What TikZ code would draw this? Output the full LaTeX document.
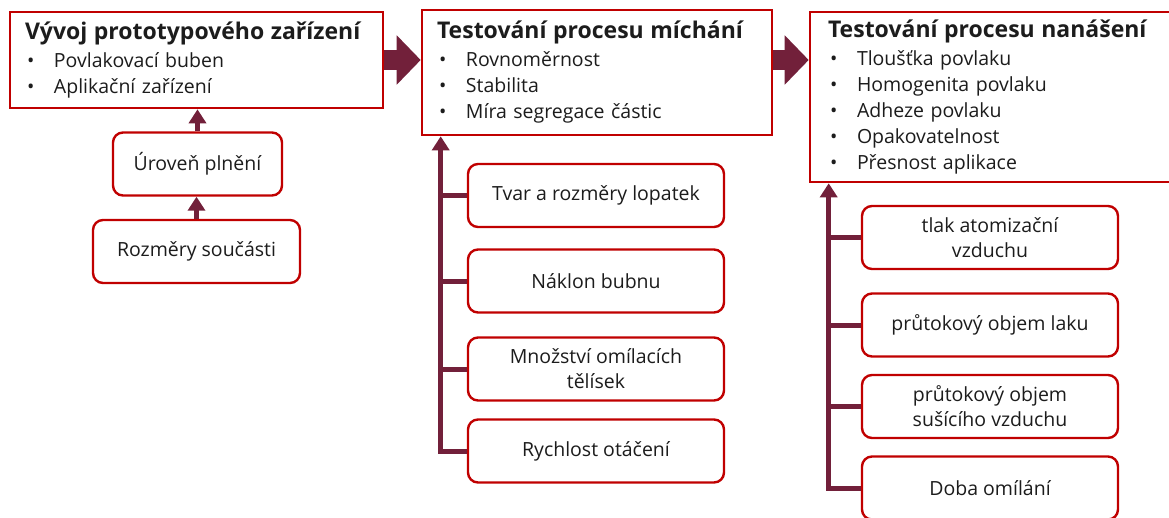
\documentclass[tikz,border=0pt]{standalone}
\usepackage{fontspec}
\setmainfont{Open Sans}
\usetikzlibrary{arrows.meta, positioning, calc}
\definecolor{boxc}{RGB}{192,0,0}
\definecolor{linkc}{RGB}{114,32,58}
\definecolor{inkc}{RGB}{28,28,28}
\tikzset{
  stage/.style={
    rectangle, draw=boxc, line width=2.6pt, fill=white,
    align=left, text=inkc, inner xsep=15pt,
    font=\fontsize{19.5pt}{26pt}\selectfont
  },
  factor/.style={
    rectangle, rounded corners=10pt, draw=boxc, line width=2.4pt, fill=white,
    align=center, text=inkc, minimum width=256pt, minimum height=63pt,
    font=\fontsize{19.5pt}{25pt}\selectfont
  },
  flow/.style={draw=linkc, line width=20pt, -{Triangle[width=48pt, length=24pt]}},
  feed/.style={draw=linkc, line width=5pt, -{Triangle[width=17pt, length=14pt]}},
  tap/.style={draw=linkc, line width=5pt},
}
\newcommand{\hd}[1]{{\bfseries\fontsize{23pt}{26pt}\selectfont #1}}
\newcommand{\bul}[1]{\hspace*{2pt}\makebox[27pt][l]{\textbullet}#1}

\begin{document}
\begin{tikzpicture}[x=1pt, y=-1pt]
  \useasboundingbox (0,0) rectangle (1169,517);

  % three stages along the top
  \node[stage, minimum width=373pt, minimum height=96pt, text width=343pt] (proto) at (196.5,60)
    {\hd{Vývoj prototypového zařízení}\\[2pt]
     \bul{Povlakovací buben}\\
     \bul{Aplikační zařízení}};
  \node[stage, minimum width=350pt, minimum height=125pt, text width=320pt] (mix) at (597,72.5)
    {\hd{Testování procesu míchání}\\[2pt]
     \bul{Rovnoměrnost}\\
     \bul{Stabilita}\\
     \bul{Míra segregace částic}};
  \node[stage, inner xsep=18pt, minimum width=365pt, minimum height=170pt, text width=329pt] (coat) at (992.5,97)
    {\hd{Testování procesu nanášení}\\[2pt]
     \bul{Tloušťka povlaku}\\
     \bul{Homogenita povlaku}\\
     \bul{Adheze povlaku}\\
     \bul{Opakovatelnost}\\
     \bul{Přesnost aplikace}};

  \draw[flow] (proto.east) -- (proto.east -| mix.west);
  \draw[flow] (mix.east |- proto.east) -- (coat.west |- proto.east);

  % prototype inputs
  \node[factor, minimum width=169pt] (fill) at (197.5,164) {Úroveň plnění};
  \node[factor, minimum width=207pt] (dims) at (196.5,251.5) {Rozměry součásti};

  \draw[feed] (dims.north) -- (dims.north |- fill.south);
  \draw[feed] (fill.north) -- (fill.north |- proto.south);

  % mixing parameters
  \node[factor] (blades) at (596,195.5) {Tvar a rozměry lopatek};
  \node[factor] (tilt)   at (596,281)   {Náklon bubnu};
  \node[factor] (media)  at (596,369)   {Množství omílacích\\tělísek};
  \node[factor] (speed)  at (596,451)   {Rychlost otáčení};

  \coordinate (mixbus) at ([xshift=20pt]mix.south west);
  \draw[feed] (speed.west) -| (mixbus);
  \foreach \f in {blades, tilt, media}
    \draw[tap] (\f.west) -- (\f.west -| mixbus);

  % coating parameters
  \node[factor] (atom)  at (990,237.5) {tlak atomizační\\vzduchu};
  \node[factor] (paint) at (990,325)   {průtokový objem laku};
  \node[factor] (dry)   at (990,406.5) {průtokový objem\\sušícího vzduchu};
  \node[factor] (tumble) at (990,488)  {Doba omílání};

  \coordinate (coatbus) at ([xshift=20pt]coat.south west);
  \draw[feed] (tumble.west) -| (coatbus);
  \foreach \f in {atom, paint, dry}
    \draw[tap] (\f.west) -- (\f.west -| coatbus);

\end{tikzpicture}
\end{document}
